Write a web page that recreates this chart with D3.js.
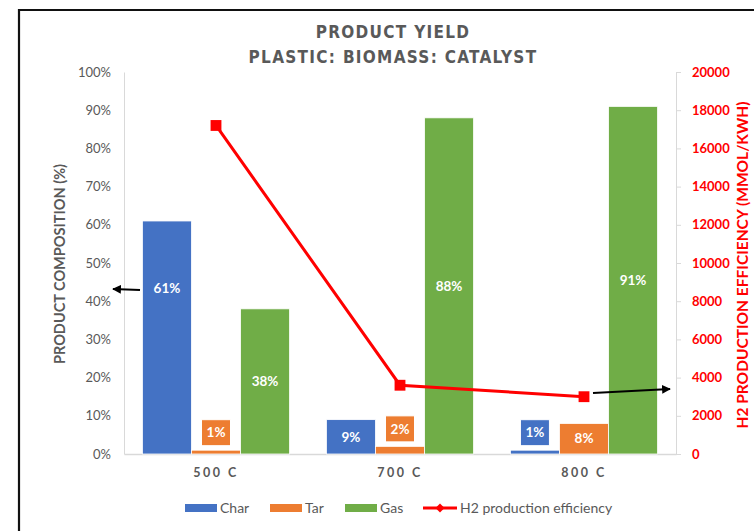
<!DOCTYPE html>
<html><head><meta charset="utf-8">
<script src="https://cdn.jsdelivr.net/npm/d3@7"></script>
<style>
html,body{margin:0;padding:0;background:#fff;}
svg{display:block;}
</style></head>
<body>
<svg id="chart" width="754" height="531"></svg>
<script>
const categories = ["500 C", "700 C", "800 C"];
const seriesNames = ["Char", "Tar", "Gas"];
const charValues = [0.61, 0.09, 0.01];
const tarValues = [0.01, 0.02, 0.08];
const gasValues = [0.38, 0.88, 0.91];
const h2Values = [17200, 3600, 3000];
const leftTicks = [0, 0.1, 0.2, 0.3, 0.4, 0.5, 0.6, 0.7, 0.8, 0.9, 1.0];
const rightTicks = [0, 2000, 4000, 6000, 8000, 10000, 12000, 14000, 16000, 18000, 20000];
const colors = {Char: "#4472C4", Tar: "#ED7D31", Gas: "#70AD47"};

const svg = d3.select("#chart");
const grey = "#595959";
const font = "Lato, 'Open Sans', sans-serif";

// frame
svg.append("path").attr("d", "M19,540 L19,10 L760,10").attr("fill", "none").attr("stroke", "#111").attr("stroke-width", 2.2);

const x0 = d3.scaleBand().domain(categories).range([124, 676]).paddingInner(0).paddingOuter(0);
const x1 = d3.scaleBand().domain(seriesNames).range([0, x0.bandwidth()]).paddingInner(0).paddingOuter(0.375);
const y = d3.scaleLinear().domain([0, 1]).range([454, 72]);
const yR = d3.scaleLinear().domain([0, 20000]).range([454, 72]);

// title
const title = svg.append("text").attr("text-anchor", "middle").attr("fill", grey)
  .style("font-family", "'Liberation Sans Narrow', 'DejaVu Sans Condensed', sans-serif")
  .style("font-size", "17px").style("font-weight", "bold").style("letter-spacing", "1.3px");
title.append("tspan").attr("x", 393).attr("y", 38).text("PRODUCT YIELD");
title.append("tspan").attr("x", 393).attr("y", 63).text("PLASTIC: BIOMASS: CATALYST");

// axes lines
const leftAxis = d3.axisLeft(y).tickValues(leftTicks).tickFormat(d3.format(".0%")).tickSize(0).tickPadding(13);
const gL = svg.append("g").attr("transform", "translate(124,0)").call(leftAxis);
gL.select(".domain").attr("stroke", "#d9d9d9");
gL.selectAll("text").attr("fill", grey).style("font-family", font).style("font-size", "13px");

const rightAxis = d3.axisRight(yR).tickValues(rightTicks).tickFormat(d3.format("d")).tickSize(5).tickPadding(11);
const gR = svg.append("g").attr("transform", "translate(676,0)").call(rightAxis);
gR.select(".domain").attr("stroke", "#d9d9d9");
gR.selectAll("line").attr("stroke", "#d9d9d9");
gR.selectAll("text").attr("fill", "#ff0000").style("font-family", font).style("font-size", "13px").style("font-weight", "bold");

const bottomAxis = d3.axisBottom(x0).tickSize(0).tickPadding(14);
const gB = svg.append("g").attr("transform", "translate(0,454)").call(bottomAxis);
gB.select(".domain").attr("stroke", "#d9d9d9").attr("stroke-width", 1.5);
gB.selectAll("text").attr("fill", grey).style("font-family", font).style("font-size", "12.5px").style("font-weight", "bold").style("letter-spacing", "2.5px");

// axis titles
svg.append("text").attr("transform", "translate(65,264) rotate(-90)").attr("text-anchor", "middle")
  .attr("fill", grey).style("font-family", font).style("font-size", "14.5px").style("font-weight", "bold")
  .text("PRODUCT COMPOSITION (%)");
svg.append("text").attr("transform", "translate(748,265) rotate(-90)").attr("text-anchor", "middle")
  .attr("fill", "#ff0000").style("font-family", font).style("font-size", "15.5px").style("font-weight", "bold")
  .text("H2 PRODUCTION EFFICIENCY (MMOL/KWH)");

// bars
const seriesData = {Char: charValues, Tar: tarValues, Gas: gasValues};
const barData = [];
categories.forEach((c, i) => seriesNames.forEach(s => barData.push({cat: c, s: s, v: seriesData[s][i]})));

svg.append("g").selectAll("rect").data(barData).join("rect")
  .attr("x", d => x0(d.cat) + x1(d.s))
  .attr("y", d => y(d.v))
  .attr("width", x1.bandwidth())
  .attr("height", d => y(0) - y(d.v))
  .attr("fill", d => colors[d.s])
  .attr("stroke", "#fff").attr("stroke-width", 0.8);

// data labels
const lbl = svg.append("g");
barData.forEach(d => {
  const cx = x0(d.cat) + x1(d.s) + x1.bandwidth() / 2;
  const h = y(0) - y(d.v);
  let cy;
  if (h < 20) {
    cy = y(d.v) - 17.5;
    lbl.append("rect").attr("x", cx - 14.5).attr("y", cy - 13).attr("width", 29).attr("height", 26)
      .attr("fill", colors[d.s]).attr("stroke", "#fff").attr("stroke-width", 1);
  } else if (d.s === "Char" && d.v > 0.5) {
    cy = y(d.v * 0.71);   // label sits higher in the tall Char bar
  } else {
    cy = y(d.v / 2);
  }
  lbl.append("text").attr("x", cx).attr("y", cy).attr("dy", "0.35em").attr("text-anchor", "middle")
    .attr("fill", "#fff").style("font-family", font).style("font-size", "13.5px").style("font-weight", "bold")
    .text(d3.format(".0%")(d.v));
});

// H2 line
const cx = c => x0(c) + x0.bandwidth() / 2;
const line = d3.line().x((d, i) => cx(categories[i])).y(d => yR(d));
svg.append("path").datum(h2Values).attr("d", line).attr("fill", "none").attr("stroke", "#ff0000").attr("stroke-width", 3);
svg.append("g").selectAll("path").data(h2Values).join("path")
  .attr("d", d3.symbol().type(d3.symbolDiamond2).size(150))
  .attr("transform", (d, i) => `translate(${cx(categories[i])},${yR(d)}) rotate(45)`)
  .attr("fill", "#ff0000");

// arrows
const defs = svg.append("defs");
defs.append("marker").attr("id", "ah").attr("viewBox", "0 0 10 10").attr("refX", 9).attr("refY", 5)
  .attr("markerWidth", 4).attr("markerHeight", 4).attr("orient", "auto")
  .append("path").attr("d", "M0,0 L10,5 L0,10 Z").attr("fill", "#000");
svg.append("line").attr("x1", 140).attr("y1", 290).attr("x2", 113).attr("y2", 289)
  .attr("stroke", "#000").attr("stroke-width", 2.2).attr("marker-end", "url(#ah)");
svg.append("line").attr("x1", 593).attr("y1", 393).attr("x2", 670).attr("y2", 389)
  .attr("stroke", "#000").attr("stroke-width", 2.2).attr("marker-end", "url(#ah)");

// legend
const legend = svg.append("g");
const legItems = [
  {name: "Char", x: 185, type: "bar"},
  {name: "Tar", x: 270, type: "bar"},
  {name: "Gas", x: 345, type: "bar"},
  {name: "H2 production efficiency", x: 423, type: "line"}
];
legItems.forEach(it => {
  if (it.type === "bar") {
    legend.append("rect").attr("x", it.x).attr("y", 504).attr("width", 32).attr("height", 8).attr("fill", colors[it.name]);
  } else {
    legend.append("line").attr("x1", it.x).attr("x2", it.x + 34).attr("y1", 508).attr("y2", 508).attr("stroke", "#ff0000").attr("stroke-width", 3);
    legend.append("path").attr("d", d3.symbol().type(d3.symbolSquare).size(40)).attr("transform", `translate(${it.x + 17},508) rotate(45)`).attr("fill", "#ff0000");
  }
  legend.append("text").attr("x", it.x + (it.type === "bar" ? 35 : 37)).attr("y", 508).attr("dy", "0.35em")
    .attr("fill", grey).style("font-family", font).style("font-size", "14px").text(it.name);
});
</script>
</body></html>
